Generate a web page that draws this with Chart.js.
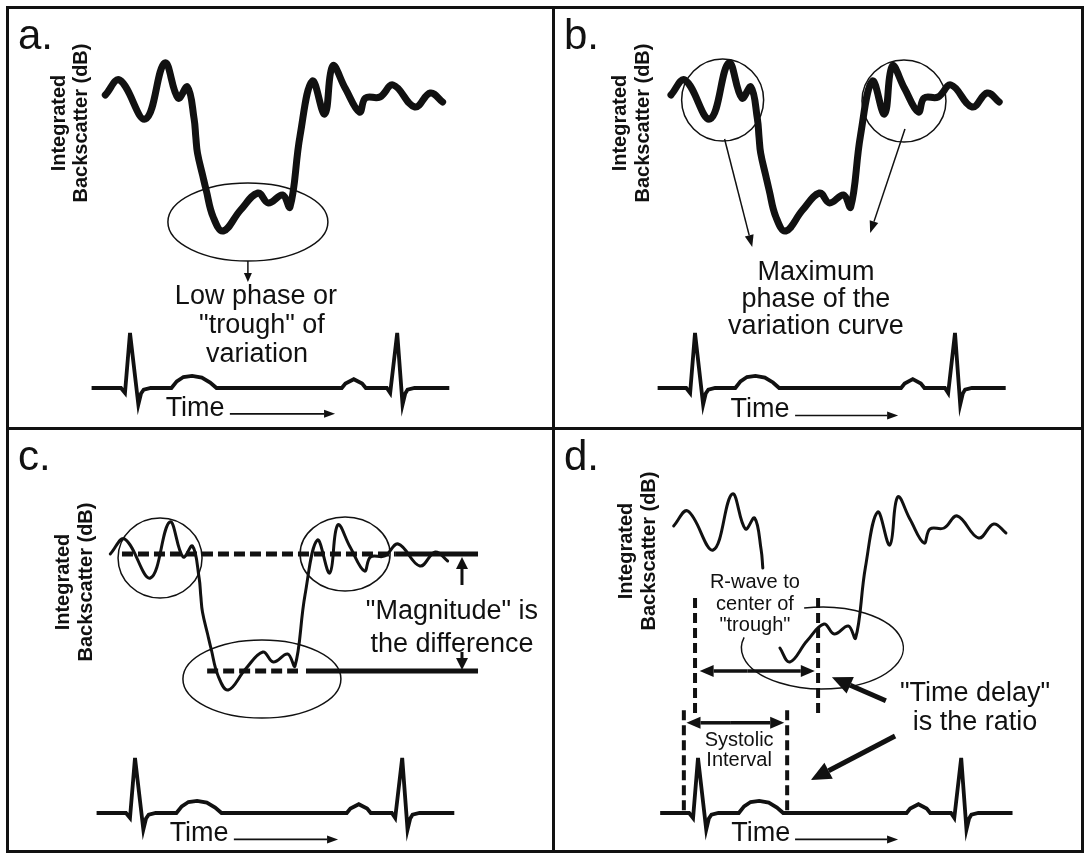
<!DOCTYPE html>
<html>
<head>
<meta charset="utf-8">
<script src="https://cdn.jsdelivr.net/npm/chart.js@4.4.1/dist/chart.umd.min.js"></script>
<style>
  body { margin: 0; background: #fff; }
  #fig { position: relative; width: 1087px; height: 855px; overflow: hidden; }
  #fig canvas { position: absolute; }
  .rule { position: absolute; background: #111; }
</style>
</head>
<body>
<div id="fig">
  <div class="rule" style="left:6px;top:6px;width:1078px;height:3px"></div>
  <div class="rule" style="left:6px;top:850px;width:1078px;height:3px"></div>
  <div class="rule" style="left:6px;top:6px;width:3px;height:847px"></div>
  <div class="rule" style="left:1081px;top:6px;width:3px;height:847px"></div>
  <div class="rule" style="left:552px;top:6px;width:3px;height:847px"></div>
  <div class="rule" style="left:6px;top:427px;width:1078px;height:3px"></div>
</div>
<script>
// integrated backscatter curve: time after R wave (ms), level (dB)
const bsTime = [-74, -31, 46, 104, 144, 172, 192, 197, 202, 218, 228, 249, 279, 331, 383, 414, 457, 479, 509, 546, 583, 607, 644, 687, 705, 748, 788, 853, 899, 936];
const bsDb = [-1.6, -0.85, -2.8, 0, -1.75, -1.2, -2.8, -3.7, -4.5, -5.65, -6.35, -7.7, -8.4, -7.35, -6.5, -7.0, -6.6, -7.2, -3.65, -0.9, -2.55, -0.15, -1.25, -2.45, -1.75, -1.7, -1.1, -2.2, -1.5, -1.95];

// ECG trace: time (ms), amplitude (mV)
const ecgTime = [-115, -27, -15, 0, 25, 33, 41, 62, 124, 140, 160, 186, 215, 240, 259, 634, 645, 670, 695, 706, 769, 779, 800, 816, 824, 831, 852, 956];
const ecgMv = [0, 0, -0.09, 1.0, -0.3, -0.1, -0.03, 0, 0, 0.12, 0.2, 0.22, 0.19, 0.1, 0, 0, 0.08, 0.16, 0.08, 0, 0, -0.09, 1.0, -0.3, -0.1, -0.03, 0, 0];

// panel d: stretch of the curve left out behind the label
const gapD = [198, 237];

// panel c: high and low levels of the variation (dB) and their extent (ms)
const levelHigh = -1.6;
const levelLow = -7.45;
const levelHighT = [-39, 781, 1027];
const levelLowT = [216, 488, 512, 1027];

// panel d: R wave, trough centre and systolic interval (ms)
const rWaveT = -9;
const troughT = 365;
const systoleT = [-43, 271];

const yTitle = ['Integrated', 'Backscatter (dB)'];

const FONT = '"Liberation Sans", Arial, Helvetica, sans-serif';
const INK = '#111';

function pts(xs, ys) {
  return xs.map((x, i) => ({ x: x, y: ys[i] }));
}

function text(ctx, s, p, size, bold) {
  ctx.font = (bold ? 'bold ' : '') + size + 'px ' + FONT;
  ctx.textAlign = 'center';
  ctx.textBaseline = 'middle';
  ctx.fillText(s, p[0], p[1]);
}

function arrow(ctx, a, b, lw, hl, hw) {
  const ang = Math.atan2(b[1] - a[1], b[0] - a[0]);
  const bx = b[0] - hl * Math.cos(ang), by = b[1] - hl * Math.sin(ang);
  ctx.lineWidth = lw;
  ctx.beginPath();
  ctx.moveTo(a[0], a[1]);
  ctx.lineTo(bx, by);
  ctx.stroke();
  ctx.beginPath();
  ctx.moveTo(b[0], b[1]);
  ctx.lineTo(bx + hw * Math.sin(ang), by - hw * Math.cos(ang));
  ctx.lineTo(bx - hw * Math.sin(ang), by + hw * Math.cos(ang));
  ctx.closePath();
  ctx.fill();
}

function ring(ctx, c, rx, ry, lw, from, to) {
  ctx.lineWidth = lw;
  ctx.beginPath();
  ctx.ellipse(c[0], c[1], rx, ry, 0, from === undefined ? 0 : from, to === undefined ? Math.PI * 2 : to);
  ctx.stroke();
}

function timeLabel(ctx, at, t, mv, a0, a1) {
  text(ctx, 'Time', at(t, mv, 'y2'), 27);
  arrow(ctx, at(a0, mv - 0.1, 'y2'), at(a1, mv - 0.1, 'y2'), 1.6, 11, 4);
}

const deg = Math.PI / 180;

const panels = [
  {
    label: 'a.', left: 9, top: 9, w: 543, h: 418,
    r1: 130, k: 0.334, y0: 63, s: 20, e0: 388, es: 55, lw: 7, title: [59, 81, 123],
    draw(ctx, at) {
      ring(ctx, at(353, -7.95), 80, 39, 1.5);
      arrow(ctx, at(353, -9.9), at(353, -10.95), 1.5, 9, 4);
      text(ctx, 'Low phase or', at(377, -11.7), 27);
      text(ctx, '"trough" of', at(395, -13.15), 27);
      text(ctx, 'variation', at(380, -14.6), 27);
      timeLabel(ctx, at, 195, -0.37, 299, 614);
    }
  },
  {
    label: 'b.', left: 555, top: 9, w: 526, h: 418,
    r1: 695, k: 0.325, y0: 63, s: 20, e0: 388, es: 55, lw: 7, title: [620, 643, 123],
    draw(ctx, at) {
      ring(ctx, at(85, -1.85), 41, 41, 1.5);
      ring(ctx, at(643, -1.9), 42, 41, 1.5);
      arrow(ctx, at(91, -3.8), at(176, -9.2), 1.5, 12, 4.5);
      arrow(ctx, at(646, -3.3), at(539, -8.5), 1.5, 12, 4.5);
      text(ctx, 'Maximum', at(372, -10.5), 27);
      text(ctx, 'phase of the', at(372, -11.85), 27);
      text(ctx, 'variation curve', at(372, -13.2), 27);
      timeLabel(ctx, at, 200, -0.4, 308, 625);
    }
  },
  {
    label: 'c.', left: 9, top: 430, w: 543, h: 421,
    r1: 135, k: 0.334, y0: 522, s: 20, e0: 813, es: 55, lw: 3, title: [63, 86, 582],
    draw(ctx, at) {
      ring(ctx, at(75, -1.8), 42, 40, 1.5);
      ring(ctx, at(629, -1.6), 45, 37, 1.5);
      ring(ctx, at(380, -7.85), 79, 39, 1.5);
      arrow(ctx, at(979, -3.15), at(979, -1.75), 3, 12, 6);
      arrow(ctx, at(979, -6.5), at(979, -7.4), 3, 12, 6);
      text(ctx, '"Magnitude" is', at(949, -4.5), 27);
      text(ctx, 'the difference', at(949, -6.15), 27);
      timeLabel(ctx, at, 192, -0.38, 296, 608);
    }
  },
  {
    label: 'd.', left: 555, top: 430, w: 526, h: 421,
    r1: 698, k: 0.329, y0: 494, s: 20, e0: 813, es: 55, lw: 3, title: [626, 649, 551],
    draw(ctx, at) {
      ring(ctx, at(378, -7.7), 81, 41, 1.5, 257 * deg, 555 * deg);
      arrow(ctx, at(150, 2.58, 'y2'), at(5, 2.58, 'y2'), 3.5, 14, 6);
      arrow(ctx, at(150, 2.58, 'y2'), at(355, 2.58, 'y2'), 3.5, 14, 6);
      arrow(ctx, at(100, 1.64, 'y2'), at(-35, 1.64, 'y2'), 3.5, 14, 6);
      arrow(ctx, at(100, 1.64, 'y2'), at(262, 1.64, 'y2'), 3.5, 14, 6);
      text(ctx, 'R-wave to', at(173, 4.2, 'y2'), 20);
      text(ctx, 'center of', at(173, 3.8, 'y2'), 20);
      text(ctx, '"trough"', at(173, 3.41, 'y2'), 20);
      text(ctx, 'Systolic', at(125, 1.31, 'y2'), 20);
      text(ctx, 'Interval', at(125, 0.96, 'y2'), 20);
      text(ctx, '"Time delay"', at(842, 2.18, 'y2'), 27);
      text(ctx, 'is the ratio', at(842, 1.65, 'y2'), 27);
      arrow(ctx, at(571, 2.04, 'y2'), at(407, 2.47, 'y2'), 5, 20, 9);
      arrow(ctx, at(599, 1.4, 'y2'), at(343, 0.6, 'y2'), 5, 20, 9);
      timeLabel(ctx, at, 191, -0.38, 295, 608);
    }
  }
];

function notes(p) {
  return {
    id: 'notes',
    afterDatasetsDraw(chart) {
      const ctx = chart.ctx;
      const at = (t, v, ax) => [chart.scales.x.getPixelForValue(t), chart.scales[ax || 'y'].getPixelForValue(v)];
      ctx.save();
      ctx.strokeStyle = INK;
      ctx.fillStyle = INK;
      ctx.lineCap = 'butt';
      p.draw(ctx, at);
      // panel letter
      ctx.font = '42px ' + FONT;
      ctx.textAlign = 'left';
      ctx.textBaseline = 'alphabetic';
      ctx.fillText(p.label, 9, 40);
      // rotated axis title
      for (let i = 0; i < 2; i++) {
        ctx.save();
        ctx.translate(p.title[i] - p.left, p.title[2] - p.top);
        ctx.rotate(-Math.PI / 2);
        text(ctx, yTitle[i], [0, 0], 20, true);
        ctx.restore();
      }
      ctx.restore();
    }
  };
}

panels.forEach(p => {
  const cv = document.createElement('canvas');
  cv.width = p.w;
  cv.height = p.h;
  cv.style.left = p.left + 'px';
  cv.style.top = p.top + 'px';
  const fig = document.getElementById('fig');
  fig.insertBefore(cv, fig.firstChild);

  let curve = pts(bsTime, bsDb);
  if (p.label === 'd.') {
    curve = curve.filter(q => q.x <= gapD[0] || q.x >= gapD[1]);
    const cut = curve.findIndex(q => q.x >= gapD[1]);
    curve.splice(cut, 0, { x: (gapD[0] + gapD[1]) / 2, y: null });
  }

  const datasets = [
    { data: curve, yAxisID: 'y', borderColor: INK, borderWidth: p.lw, tension: 0.4,
      borderCapStyle: 'round', borderJoinStyle: 'round', spanGaps: false },
    { data: pts(ecgTime, ecgMv), yAxisID: 'y2', borderColor: INK, borderWidth: 3.8, tension: 0,
      borderJoinStyle: 'miter', borderCapStyle: 'butt' }
  ];

  if (p.label === 'c.') {
    datasets.push({
      data: levelHighT.map(t => ({ x: t, y: levelHigh })), yAxisID: 'y', borderColor: INK, borderWidth: 5,
      segment: { borderDash: c => c.p0DataIndex === 0 ? [11, 5] : [] }
    });
    datasets.push({
      data: [{ x: levelLowT[0], y: levelLow }, { x: levelLowT[1], y: levelLow },
             { x: (levelLowT[1] + levelLowT[2]) / 2, y: null },
             { x: levelLowT[2], y: levelLow }, { x: levelLowT[3], y: levelLow }],
      yAxisID: 'y', borderColor: INK, borderWidth: 5, spanGaps: false,
      segment: { borderDash: c => c.p0DataIndex === 0 ? [11, 5] : [] }
    });
  }

  if (p.label === 'd.') {
    [rWaveT, troughT].forEach(t => datasets.push({
      data: [{ x: t, y: 3.91 }, { x: t, y: 1.75 }], yAxisID: 'y2',
      borderColor: INK, borderWidth: 4, borderDash: [10, 5]
    }));
    systoleT.forEach(t => datasets.push({
      data: [{ x: t, y: 1.87 }, { x: t, y: 0.02 }], yAxisID: 'y2',
      borderColor: INK, borderWidth: 4, borderDash: [10, 5]
    }));
  }

  new Chart(cv.getContext('2d'), {
    type: 'line',
    data: { datasets: datasets },
    options: {
      responsive: false,
      animation: false,
      devicePixelRatio: 1,
      layout: { padding: 0 },
      elements: { point: { radius: 0 } },
      plugins: { legend: { display: false }, tooltip: { enabled: false } },
      scales: {
        x: { type: 'linear', display: false,
             min: (p.left - p.r1) / p.k, max: (p.left + p.w - p.r1) / p.k },
        y: { display: false, min: (p.y0 - p.top - p.h) / p.s, max: (p.y0 - p.top) / p.s },
        y2: { display: false, min: (p.e0 - p.top - p.h) / p.es, max: (p.e0 - p.top) / p.es }
      }
    },
    plugins: [notes(p)]
  });
});
</script>
</body>
</html>
